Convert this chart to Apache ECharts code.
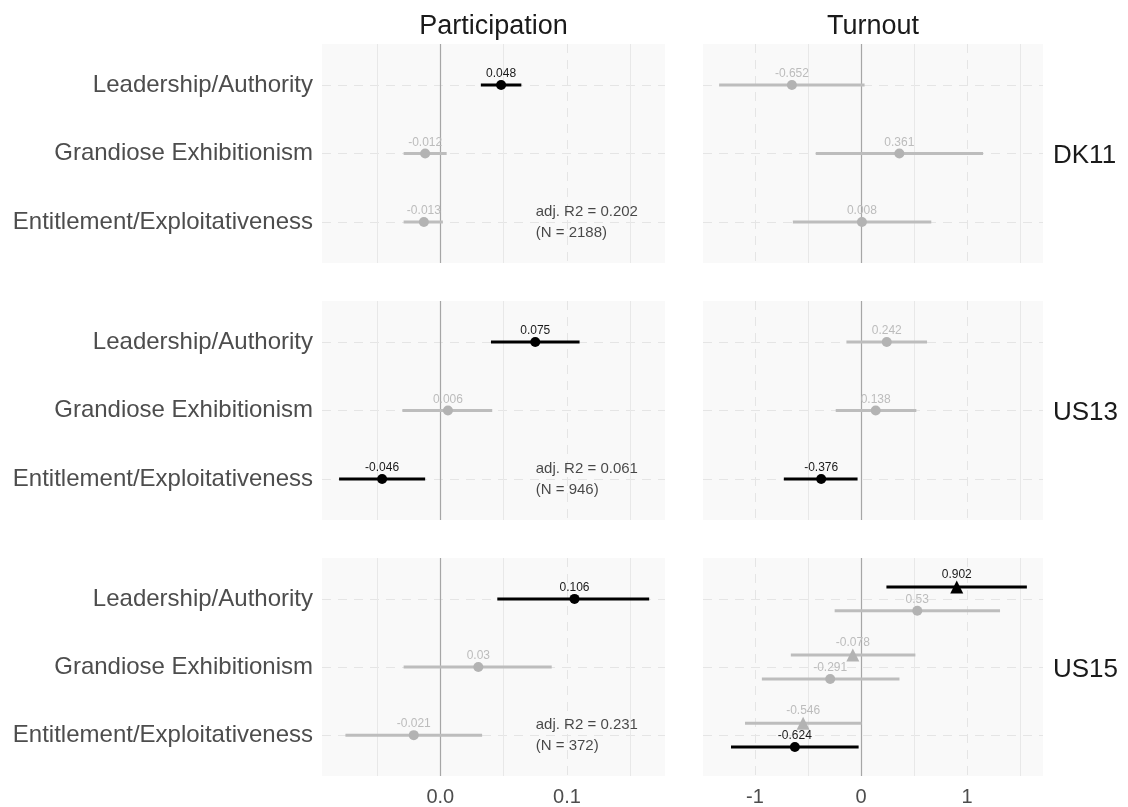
<!DOCTYPE html>
<html><head><meta charset="utf-8">
<script src="https://cdn.jsdelivr.net/npm/echarts@6/dist/echarts.min.js"></script>
<style>html,body{margin:0;padding:0;background:#fff}#c{width:1128px;height:807px}</style>
</head><body><div id="c"></div>
<script>
// ---------- data ----------
const categories = ['Leadership/Authority', 'Grandiose Exhibitionism', 'Entitlement/Exploitativeness'];
const outcomes = ['Participation', 'Turnout'];
const countries = ['DK11', 'US13', 'US15'];
const partTicks = [0, 0.1];
const turnTicks = [-1, 0, 1];
const partMinor = [-0.05, 0.05, 0.15];
const turnMinor = [-0.5, 0.5, 1.5];
// rows: [category index, model (0 single, 1 circle model, 2 triangle model), estimate, lower CI, upper CI, significant]
const partDK11 = [[0, 0, 0.048, 0.032, 0.064, 1], [1, 0, -0.012, -0.029, 0.005, 0], [2, 0, -0.013, -0.029, 0.002, 0]];
const turnDK11 = [[0, 0, -0.652, -1.338, 0.033, 0], [1, 0, 0.361, -0.427, 1.150, 0], [2, 0, 0.008, -0.643, 0.662, 0]];
const partUS13 = [[0, 0, 0.075, 0.040, 0.110, 1], [1, 0, 0.006, -0.030, 0.041, 0], [2, 0, -0.046, -0.080, -0.012, 1]];
const turnUS13 = [[0, 0, 0.242, -0.138, 0.622, 0], [1, 0, 0.138, -0.239, 0.521, 0], [2, 0, -0.376, -0.728, -0.033, 1]];
const partUS15 = [[0, 0, 0.106, 0.045, 0.165, 1], [1, 0, 0.03, -0.029, 0.088, 0], [2, 0, -0.021, -0.075, 0.033, 0]];
const turnUS15 = [
  [0, 2, 0.902, 0.239, 1.563, 1], [0, 1, 0.53, -0.249, 1.31, 0],
  [1, 2, -0.078, -0.662, 0.512, 0], [1, 1, -0.291, -0.935, 0.362, 0],
  [2, 2, -0.546, -1.094, 0.005, 0], [2, 1, -0.624, -1.226, -0.023, 1]
];
const adjR2 = [0.202, 0.061, 0.231];
const nObs = [2188, 946, 372];

// ---------- layout ----------
const panelData = [[partDK11, turnDK11], [partUS13, turnUS13], [partUS15, turnUS15]];
const colLeft = [322, 703], colWidth = [343, 340], rowTop = [44, 301, 558], rowHeight = 219;
const xRange = [[-0.0935, 0.1775], [-1.49, 1.715]];
const majors = [partTicks, turnTicks], minors = [partMinor, turnMinor];
const FONT = '"Liberation Sans", Arial, Helvetica, sans-serif';
const DODGE = 0.175;
const annotX = 0.075;
function yPos(row) { return row[0] + 1 + (row[1] === 1 ? DODGE : row[1] === 2 ? -DODGE : 0); }

const grids = [], xAxes = [], yAxes = [], series = [];
for (let r = 0; r < 3; r++) {
  for (let c = 0; c < 2; c++) {
    const idx = grids.length;
    const rows = panelData[r][c];
    grids.push({ left: colLeft[c], top: rowTop[r], width: colWidth[c], height: rowHeight, show: true, backgroundColor: '#f9f9f9', borderWidth: 0 });
    xAxes.push({
      type: 'value', gridIndex: idx, min: xRange[c][0], max: xRange[c][1],
      axisLine: { show: false }, axisTick: { show: false, customValues: majors[c] },
      axisLabel: { show: r === 2, customValues: majors[c], fontSize: 20, color: '#4d4d4d', margin: 11, fontFamily: FONT,
        formatter: v => c === 0 ? Number(v).toFixed(1) : String(v) },
      splitLine: { show: true, lineStyle: { color: '#e5e5e5', width: 1, type: [9, 7] } }
    });
    yAxes.push({
      type: 'value', gridIndex: idx, min: 0.4, max: 3.6, inverse: true,
      axisLine: { show: false }, axisTick: { show: false, customValues: [1, 2, 3] },
      axisLabel: { show: c === 0, customValues: [1, 2, 3], fontSize: 24, color: '#4d4d4d', margin: 9, fontFamily: FONT,
        formatter: v => categories[Math.round(v) - 1] },
      splitLine: { show: true, lineStyle: { color: '#e5e5e5', width: 1, type: [9, 7] } }
    });
    // minor grid + zero line
    series.push({
      type: 'scatter', xAxisIndex: idx, yAxisIndex: idx, data: [], silent: true, z: 1,
      markLine: { silent: true, z: 1, symbol: 'none', animation: false, label: { show: false },
        data: minors[c].map(v => ({ xAxis: v, lineStyle: { color: '#e8e8e8', width: 1, type: 'solid' } }))
          .concat([{ xAxis: 0, lineStyle: { color: '#a6a6a6', width: 1.2, type: 'solid' } }]) }
    });
    // error bars
    series.push({
      type: 'custom', xAxisIndex: idx, yAxisIndex: idx, z: 2, silent: true,
      data: rows.map(row => [row[3], row[4], yPos(row), row[5]]),
      encode: { x: [0, 1], y: 2 },
      renderItem: (params, api) => {
        const p1 = api.coord([api.value(0), api.value(2)]);
        const p2 = api.coord([api.value(1), api.value(2)]);
        return { type: 'line', shape: { x1: p1[0], y1: p1[1], x2: p2[0], y2: p2[1] },
          style: { stroke: api.value(3) ? '#000' : '#bdbdbd', lineWidth: 3 } };
      }
    });
    // points
    series.push({
      type: 'scatter', xAxisIndex: idx, yAxisIndex: idx, z: 3, silent: true,
      data: rows.map(row => ({
        value: [row[2], yPos(row)],
        symbol: row[1] === 2 ? 'triangle' : 'circle',
        symbolSize: row[1] === 2 ? 13 : 10,
        itemStyle: { color: row[5] ? '#000' : '#b3b3b3', opacity: 1 },
        label: { color: row[5] ? '#1a1a1a' : '#bcbcbc' }
      })),
      label: { show: true, position: 'top', distance: 0, fontSize: 12, fontFamily: FONT, formatter: p => String(p.value[0]) }
    });
    if (c === 0) {
      series.push({
        type: 'scatter', xAxisIndex: idx, yAxisIndex: idx, z: 4, silent: true, symbolSize: 1,
        itemStyle: { color: 'rgba(0,0,0,0)' },
        data: [[annotX, 3]],
        label: { show: true, position: 'right', distance: 0, fontSize: 15, lineHeight: 21, color: '#1a1a1a', fontFamily: FONT,
          formatter: 'adj. R2 = ' + adjR2[r] + '\n(N = ' + nObs[r] + ')' }
      });
    }
  }
}

const graphics = [];
outcomes.forEach((t, c) => graphics.push({ type: 'text', x: colLeft[c] + colWidth[c] / 2, y: 27,
  style: { text: t, font: '27px ' + FONT, fill: '#1a1a1a', textAlign: 'center', textVerticalAlign: 'middle' } }));
countries.forEach((t, r) => graphics.push({ type: 'text', x: 1053, y: rowTop[r] + rowHeight / 2 + 2,
  style: { text: t, font: '26px ' + FONT, fill: '#1a1a1a', textAlign: 'left', textVerticalAlign: 'middle' } }));

const chart = echarts.init(document.getElementById('c'));
chart.setOption({
  animation: false,
  backgroundColor: '#fff',
  grid: grids, xAxis: xAxes, yAxis: yAxes, series: series, graphic: graphics
});
</script></body></html>
